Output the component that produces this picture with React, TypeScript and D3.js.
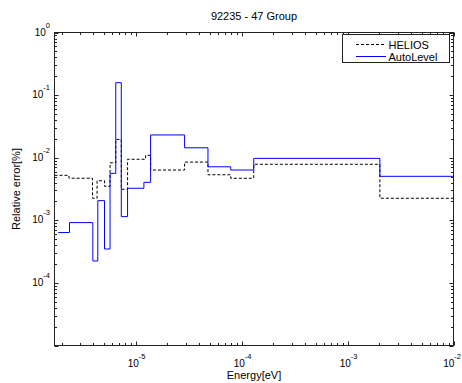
import { useRef, useEffect } from 'react';
import * as d3 from 'd3';

// group edges (energy) and relative errors
const heliosEdges = [1.717e-6, 2.35e-6, 3.92e-6, 4.33e-6, 5.09e-6, 5.74e-6, 6.5e-6, 7.33e-6, 8.4e-6, 1.243e-5, 1.386e-5, 2.9e-5, 4.82e-5, 7.9e-5, 1.303e-4, 2.02e-3, 1e-2];
const heliosErr = [5.23e-3, 4.7e-3, 2.25e-3, 4.29e-3, 3.49e-3, 8.29e-3, 1.96e-2, 3.13e-3, 9.44e-3, 1.09e-2, 6.35e-3, 8.51e-3, 5.34e-3, 4.69e-3, 7.85e-3, 2.25e-3];

const autoEdges = [1.86e-6, 2.38e-6, 3.95e-6, 4.4e-6, 5.09e-6, 5.74e-6, 6.5e-6, 7.33e-6, 8.4e-6, 1.198e-5, 1.386e-5, 2.9e-5, 4.82e-5, 7.9e-5, 1.303e-4, 2.02e-3, 1e-2];
const autoErr = [6.37e-4, 9.19e-4, 2.24e-4, 2.06e-3, 3.48e-4, 5.62e-3, 0.158, 1.145e-3, 3.25e-3, 4.04e-3, 2.31e-2, 1.44e-2, 7.16e-3, 6.35e-3, 9.75e-3, 5.04e-3];

const xTicks = [-5, -4, -3, -2];
const yTicks = [0, -1, -2, -3, -4];
const xDomain = [1.717e-6, 1e-2];
const yDomain = [1e-5, 1];

const FONT = 'Liberation Sans, Arial, sans-serif';

export default function App() {
  const svgRef = useRef<SVGSVGElement>(null);

  useEffect(() => {
    const svg = d3.select(svgRef.current);
    svg.selectAll('*').remove();

    const left = 54.5, right = 453.5, top = 32.5, bottom = 345.5;
    const x = d3.scaleLog().domain(xDomain).range([left, right]);
    const y = d3.scaleLog().domain(yDomain).range([bottom, top]);

    svg.append('rect').attr('x', 0).attr('y', 0).attr('width', 462).attr('height', 383).attr('fill', '#fff');

    // ticks on all four sides, pointing inward
    const g = svg.append('g').attr('stroke', '#222').attr('stroke-width', 1);
    const minors = (lo: number, hi: number) => {
      const out: { v: number; major: boolean }[] = [];
      for (let k = lo; k <= hi; k++) {
        for (let m = 1; m <= 9; m++) out.push({ v: m * Math.pow(10, k), major: m === 1 });
      }
      return out;
    };
    minors(-6, -2).forEach((t) => {
      if (t.v < xDomain[0] || t.v > xDomain[1]) return;
      const px = Math.round(x(t.v)) + 0.5;
      const len = t.major ? 4 : 2.5;
      g.append('line').attr('x1', px).attr('x2', px).attr('y1', bottom).attr('y2', bottom - len);
      g.append('line').attr('x1', px).attr('x2', px).attr('y1', top).attr('y2', top + len);
    });
    minors(-5, 0).forEach((t) => {
      if (t.v > yDomain[1]) return;
      const py = Math.round(y(t.v)) + 0.5;
      const len = t.major ? 4 : 2.5;
      g.append('line').attr('y1', py).attr('y2', py).attr('x1', left).attr('x2', left + len);
      g.append('line').attr('y1', py).attr('y2', py).attr('x1', right).attr('x2', right - len);
    });

    // stairs
    const line = d3.line<[number, number]>()
      .x((d) => x(d[0]))
      .y((d) => y(d[1]))
      .curve(d3.curveStepAfter);
    const pts = (edges: number[], vals: number[]) =>
      edges.map((e, i) => [e, vals[Math.min(i, vals.length - 1)]] as [number, number]);

    svg.append('path').attr('d', line(pts(heliosEdges, heliosErr)))
      .attr('fill', 'none').attr('stroke', '#000').attr('stroke-width', 1).attr('stroke-dasharray', '3,2');
    svg.append('path').attr('d', line(pts(autoEdges, autoErr)))
      .attr('fill', 'none').attr('stroke', '#0000ff').attr('stroke-width', 1);

    // box
    svg.append('rect').attr('x', left).attr('y', top).attr('width', right - left).attr('height', bottom - top)
      .attr('fill', 'none').attr('stroke', '#222').attr('stroke-width', 1);

    // tick labels
    xTicks.forEach((k, i) => {
      const last = i === xTicks.length - 1;
      const t = svg.append('text').attr('x', last ? 461 : x(Math.pow(10, k)) + 1).attr('y', 366.5)
        .attr('text-anchor', last ? 'end' : 'middle').attr('font-family', FONT).attr('font-size', 10).attr('fill', '#000');
      t.append('tspan').text('10');
      t.append('tspan').attr('dy', -7.5).attr('font-size', 7.5).text(String(k));
    });
    yTicks.forEach((k) => {
      const t = svg.append('text').attr('x', 50).attr('y', y(Math.pow(10, k)) + 3)
        .attr('text-anchor', 'end').attr('font-family', FONT).attr('font-size', 10).attr('fill', '#000');
      t.append('tspan').text('10');
      t.append('tspan').attr('dy', -8).attr('font-size', 7.5).text(String(k));
    });

    // titles
    svg.append('text').attr('x', (left + right) / 2).attr('y', 20).attr('text-anchor', 'middle')
      .attr('font-family', FONT).attr('font-size', 11).text('92235 - 47 Group');
    svg.append('text').attr('x', (left + right) / 2).attr('y', 379).attr('text-anchor', 'middle')
      .attr('font-family', FONT).attr('font-size', 11).text('Energy[eV]');
    svg.append('text').attr('transform', `translate(20,${(top + bottom) / 2}) rotate(-90)`).attr('text-anchor', 'middle')
      .attr('font-family', FONT).attr('font-size', 11).text('Relative error[%]');

    // legend
    const lg = svg.append('g');
    lg.append('rect').attr('x', 342.5).attr('y', 34.5).attr('width', 107).attr('height', 28)
      .attr('fill', '#fff').attr('stroke', '#222').attr('stroke-width', 1);
    const items = [
      { label: 'HELIOS', color: '#000', dash: '3,2' },
      { label: 'AutoLevel', color: '#0000ff', dash: null },
    ];
    items.forEach((it, i) => {
      const ly = 44.5 + i * 12;
      lg.append('line').attr('x1', 356).attr('x2', 386).attr('y1', ly).attr('y2', ly)
        .attr('stroke', it.color).attr('stroke-width', 1).attr('stroke-dasharray', it.dash);
      lg.append('text').attr('x', 388.5).attr('y', ly + 4).attr('font-family', FONT).attr('font-size', 11)
        .text(it.label);
    });
  }, []);

  return (
    <svg ref={svgRef} width={462} height={383} style={{ position: 'absolute', left: 0, top: 0 }} />
  );
}
